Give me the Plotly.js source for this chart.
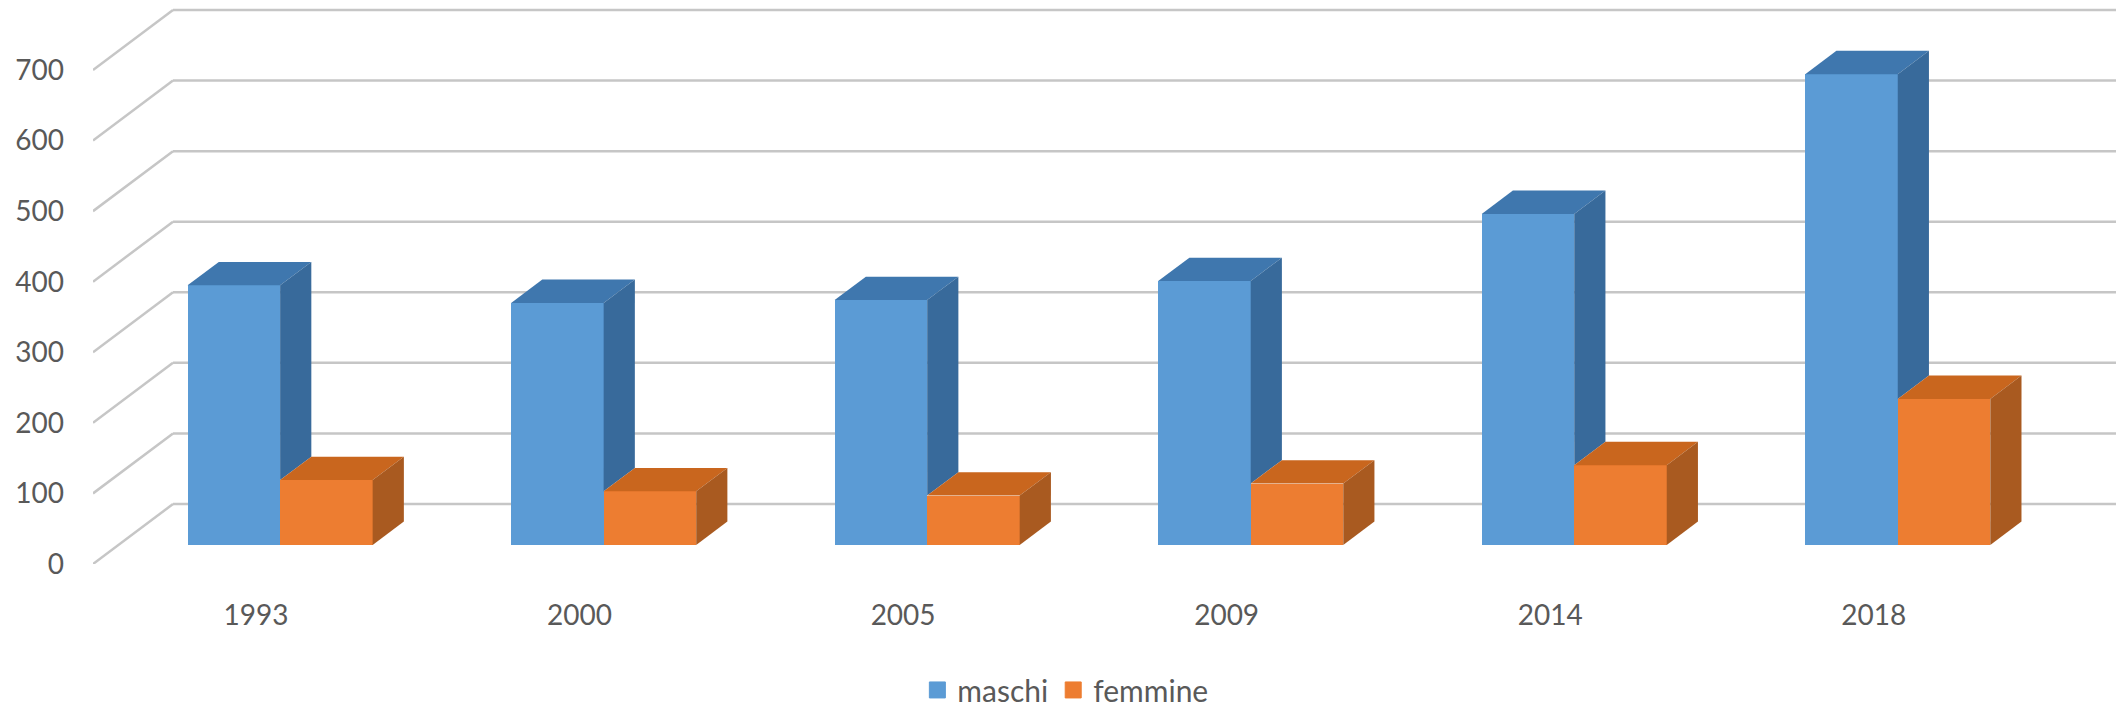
<!DOCTYPE html>
<html><head><meta charset="utf-8">
<script src="https://cdn.plot.ly/plotly-3.0.1.min.js"></script>
<style>html,body{margin:0;padding:0;background:#fff;overflow:hidden;height:709px}</style></head>
<body><div id="wrap" style="width:2118px;height:709px;overflow:hidden"><div id="chart"></div></div>
<script>
const categories = ['1993','2000','2005','2009','2014','2018'];
const maschi = [368,343,347,374,469,667];
const femmine = [92,76,70,87,113,207];
const yTicks = [0,100,200,300,400,500,600,700];

const gridColor = '#c6c6c6';
const blue = {front:'#5b9bd5', side:'#386a9b', top:'#3f77ae'};
const orange = {front:'#ed7d31', side:'#a95a20', top:'#c9661e'};

const depthX = 0.2473, depthY = 85;   // oblique projection of the depth axis, in axis units
const zFront = 0.317, zBack = 0.707;
const barW = 0.286;
const groupShift = zFront * depthX;
const baseY = zFront * depthY;
const dX = (zBack - zFront) * depthX, dY = (zBack - zFront) * depthY;
const idx = categories.map((_, i) => i);
const xM = idx.map(i => i + groupShift - barW / 2);
const xF = idx.map(i => i + groupShift + barW / 2);

function face(name, color, pts) {
  return {type:'scatter', mode:'lines', x:pts.map(p=>p[0]), y:pts.map(p=>p[1]), fill:'toself',
    fillcolor:color, line:{width:0, color:color}, showlegend:false, hoverinfo:'skip', cliponaxis:false, name:name};
}
const traces = [
  {type:'bar', name:'maschi', x:xM, y:maschi, base:idx.map(()=>baseY), width:barW, marker:{color:blue.front}, showlegend:false},
  {type:'bar', name:'femmine', x:xF, y:femmine, base:idx.map(()=>baseY), width:barW, marker:{color:orange.front}, showlegend:false}
];
idx.forEach(i => {
  const mTop = maschi[i] + baseY, fTop = femmine[i] + baseY;
  const mL = xM[i] - barW/2, mR = xM[i] + barW/2, fR = xF[i] + barW/2;
  traces.push(face('maschi top', blue.top, [[mL,mTop],[mL+dX,mTop+dY],[mR+dX,mTop+dY],[mR,mTop],[mL,mTop]]));
  traces.push(face('maschi side', blue.side, [[mR,mTop],[mR+dX,mTop+dY],[mR+dX,fTop+dY],[mR,fTop],[mR,mTop]]));
  traces.push(face('femmine top', orange.top, [[mR,fTop],[mR+dX,fTop+dY],[fR+dX,fTop+dY],[fR,fTop],[mR,fTop]]));
  traces.push(face('femmine side', orange.side, [[fR,fTop],[fR+dX,fTop+dY],[fR+dX,baseY+dY],[fR,baseY],[fR,fTop]]));
});
traces.push({type:'scatter', mode:'markers', name:'maschi', x:[null], y:[null], marker:{symbol:'square', size:16, color:blue.front, line:{width:1,color:blue.front}}});
traces.push({type:'scatter', mode:'markers', name:'femmine', x:[null], y:[null], marker:{symbol:'square', size:16, color:'#ed7d31', line:{width:1,color:'#ed7d31'}}});

const xMin = -0.5, xMax = 5.753;
const shapes = [];
yTicks.forEach(v => {
  shapes.push({type:'line', layer:'below', xref:'x', yref:'y', x0:xMin, y0:v, x1:xMin+depthX, y1:v+depthY, line:{color:gridColor, width:2.5}});
  shapes.push({type:'line', layer:'below', xref:'x', yref:'y', x0:xMin+depthX, y0:v+depthY, x1:xMax, y1:v+depthY, line:{color:gridColor, width:2.5}});
});
const tickFont = {family:'Lato, "Open Sans", sans-serif', size:28, color:'#595959'};
const legendFont = {family:'Lato, "Open Sans", sans-serif', size:30, color:'#595959'};
const layout = {
  width:2118, height:725, margin:{l:93, r:2, t:4, b:161}, paper_bgcolor:'#fff', plot_bgcolor:'rgba(0,0,0,0)',
  barmode:'overlay', bargap:0, shapes:shapes, showlegend:true,
  xaxis:{range:[xMin,xMax], tickmode:'array', tickvals:idx.map(i => i + 0.004), ticktext:categories, showgrid:false, zeroline:false, showline:false,
         ticks:'', ticklabelstandoff:32, tickfont:tickFont, fixedrange:true},
  yaxis:{range:[0,793.5], tickmode:'array', tickvals:yTicks, ticktext:yTicks.map(String), showgrid:false, zeroline:false, showline:false,
         ticks:'', ticklabelstandoff:28, tickfont:tickFont, fixedrange:true},
  legend:{orientation:'h', x:0.4075, y:0.0125, xanchor:'left', yanchor:'bottom', yref:'container', font:legendFont, bgcolor:'rgba(0,0,0,0)'}
};
Plotly.newPlot('chart', traces, layout, {displayModeBar:false, staticPlot:true});
</script></body></html>
